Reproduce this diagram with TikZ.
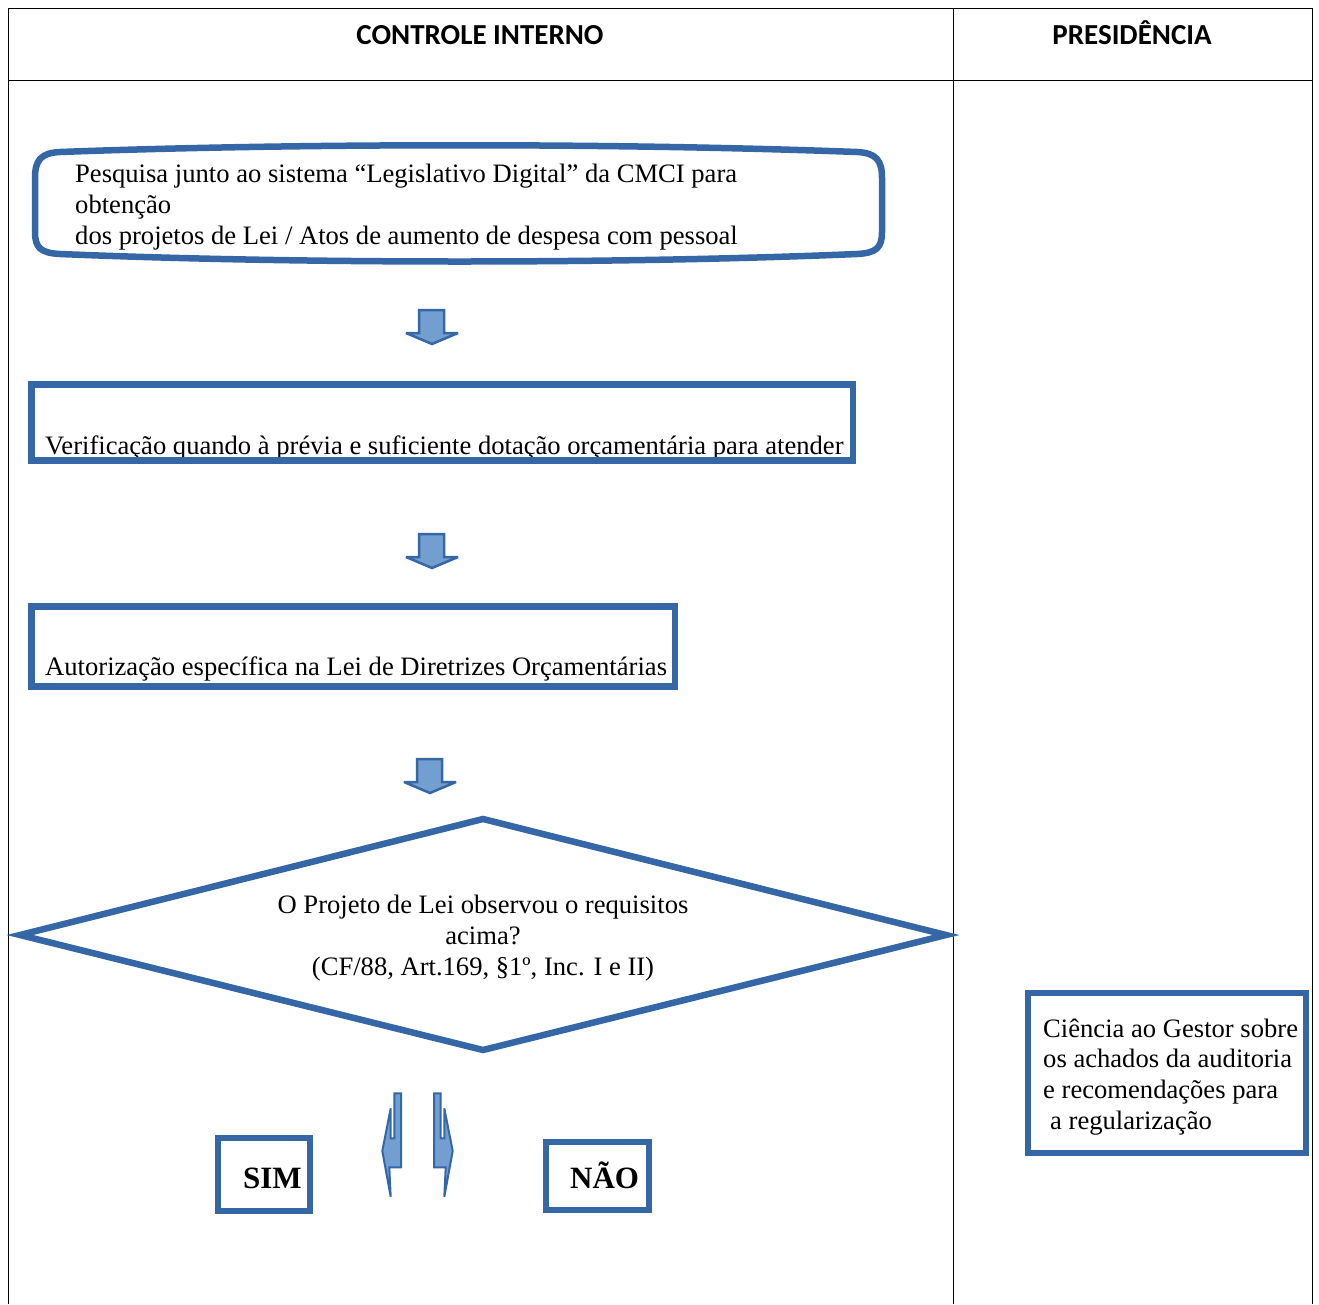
\documentclass[tikz,border=0pt]{standalone}
\usepackage{fontspec}
\setmainfont{Liberation Serif}
\newfontfamily\hdfont{Carlito}
\definecolor{bdblue}{HTML}{3566A6}
\definecolor{arfill}{HTML}{739FD0}
\begin{document}
\begin{tikzpicture}[x=1pt,y=-1pt,
  lane/.style={draw=black, line width=0.8pt},
  bluebox/.style={draw=bdblue, line width=6.5pt, line join=miter},
  txt/.style={font=\fontsize{26.6}{31}\selectfont, inner sep=0pt},
  boldtxt/.style={font=\bfseries\fontsize{31}{36}\selectfont, inner sep=0pt},
  hd/.style={font=\hdfont\bfseries\fontsize{29}{35}\selectfont, inner sep=0pt},
  blockarrow/.style={draw=bdblue, fill=arfill, line width=2.5pt, line join=miter, miter limit=2}]
\useasboundingbox (0,0) rectangle (1319,1304);
% lanes
\draw[lane] (8,1304) -- (8,8) -- (1312,8) -- (1312,1304);
\draw[lane] (8,80) -- (1312,80);
\draw[lane] (953,8) -- (953,1304);
\node[hd, anchor=base] (h1) at (480,44) {CONTROLE INTERNO};
\node[hd, anchor=base] (h2) at (1132,44) {PRESIDÊNCIA};
% box 1
\draw[bluebox] (60,152) .. controls (300,143) and (620,143) .. (857,152)
  .. controls (876,153) and (882,160) .. (882,178) -- (882,232)
  .. controls (882,248) and (876,253) .. (857,254)
  .. controls (620,264) and (300,264) .. (60,254)
  .. controls (41,253) and (35,248) .. (35,232) -- (35,178)
  .. controls (35,160) and (41,153) .. (60,152) -- cycle;
\node[txt, anchor=base west] (t1) at (75,182) {Pesquisa junto ao sistema “Legislativo Digital” da CMCI para};
\node[txt, anchor=base west] (t1b) at (75,213) {obtenção};
\node[txt, anchor=base west] (t1c) at (75,244) {dos projetos de Lei / Atos de aumento de despesa com pessoal};
% arrow 1
\draw[blockarrow] (419,310) -- (444,310) -- (444,333) -- (458,333) -- (432,344) -- (406,333) -- (419,333) -- cycle;
% box 2
\node[txt, anchor=base west] (t2) at (45,454) {Verificação quando à prévia e suficiente dotação orçamentária para atender};
\fill[white] (28,464) rectangle (860,480);
\draw[bluebox] (31.5,384.5) rectangle (853,460.5);
% arrow 2
\draw[blockarrow] (419,534) -- (444,534) -- (444,557) -- (458,557) -- (432,568) -- (406,557) -- (419,557) -- cycle;
% box 3
\node[txt, anchor=base west] (t3) at (45,675) {Autorização específica na Lei de Diretrizes Orçamentárias};
\draw[bluebox] (31.5,606.5) rectangle (675,686.5);
% arrow 3
\draw[blockarrow] (417,759) -- (442,759) -- (442,782) -- (456,782) -- (430,793) -- (404,782) -- (417,782) -- cycle;
% diamond
\draw[bluebox] (483,819) -- (946,935) -- (483,1050) -- (20,935) -- cycle;
\node[txt, align=center] (q) at (483,938) {O Projeto de Lei observou o requisitos\\acima?\\(CF/88, Art.169, §1º, Inc. I e II)};
% split arrows
\draw[blockarrow, line width=2pt] (394.3,1093.3) -- (401,1093.3) -- (401,1167.3) -- (389.3,1167.3) -- (390.7,1196.7) -- (382.3,1151) -- (390.7,1108.3) -- (390.7,1138.3) -- (394.3,1138.3) -- cycle;
\draw[blockarrow, line width=2pt] (440.7,1093.3) -- (434,1093.3) -- (434,1167.3) -- (445.7,1167.3) -- (444.3,1196.7) -- (452.7,1151) -- (444.3,1108.3) -- (444.3,1138.3) -- (440.7,1138.3) -- cycle;
% SIM / NAO
\draw[bluebox] (218,1138) rectangle (310,1211);
\node[boldtxt, anchor=base west] (sim) at (243,1188) {SIM};
\draw[bluebox] (546,1142) rectangle (649,1210);
\node[boldtxt, anchor=base west] (nao) at (570,1188) {NÃO};
% ciencia
\draw[bluebox] (1028,993) rectangle (1306,1153);
\node[txt, anchor=base west] (c1) at (1043,1037) {Ciência ao Gestor sobre};
\node[txt, anchor=base west] (c2) at (1043,1067) {os achados da auditoria};
\node[txt, anchor=base west] (c3) at (1043,1098) {e recomendações para};
\node[txt, anchor=base west] (c4) at (1050,1129) {a regularização};
\end{tikzpicture}
\end{document}
